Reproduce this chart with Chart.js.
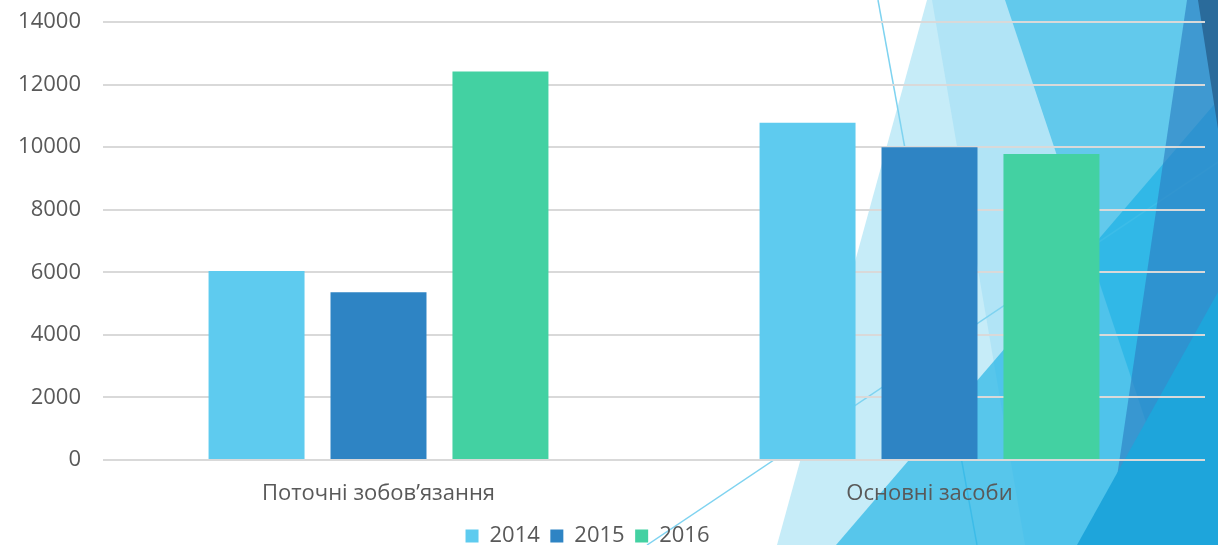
<!DOCTYPE html>
<html>
<head>
<meta charset="utf-8">
<script src="https://cdn.jsdelivr.net/npm/chart.js@4.4.1/dist/chart.umd.min.js"></script>
<style>
  html, body { margin: 0; padding: 0; background: #ffffff; }
  #wrap { position: relative; width: 1218px; height: 545px; }
  canvas { display: block; }
</style>
</head>
<body>
<div id="wrap"><canvas id="c" width="1218" height="545"></canvas></div>
<script>
// ---- data ----
const categories = ['Поточні зобов’язання', 'Основні засоби'];
const seriesNames = ['2014', '2015', '2016'];
const values2014 = [6040, 10780];
const values2015 = [5360, 10000];
const values2016 = [12415, 9780];
const yTickMin = 0;
const yTickMax = 14000;
const yTickStep = 2000;

// ---- styles ----
const seriesColors = ['#5ECBEF', '#2E84C4', '#43D1A2'];
const textColor = '#595959';
const fontFamily = "'Open Sans', 'Noto Sans', sans-serif";

// decorative theme background (slide facets), drawn behind the chart
const facetBackground = {
  id: 'facetBackground',
  beforeDraw(chart) {
    const ctx = chart.ctx;
    const W = chart.width, H = chart.height;
    const poly = (pts, fill) => {
      ctx.beginPath();
      pts.forEach((p, i) => i ? ctx.lineTo(p[0] * W, p[1] * H) : ctx.moveTo(p[0] * W, p[1] * H));
      ctx.closePath();
      ctx.fillStyle = fill;
      ctx.fill();
    };
    const line = (a, b, col, w) => {
      ctx.beginPath();
      ctx.moveTo(a[0] * W, a[1] * H);
      ctx.lineTo(b[0] * W, b[1] * H);
      ctx.strokeStyle = col;
      ctx.lineWidth = w;
      ctx.stroke();
    };
    const fx = v => v / 1218, fy = v => v / 545;
    ctx.save();
    ctx.fillStyle = '#ffffff';
    ctx.fillRect(0, 0, W, H);
    poly([[fx(927), 0], [1, 0], [1, 1], [fx(777), 1]], '#C6ECF8');
    poly([[fx(932), 0], [1, 0], [1, 1], [fx(1025), 1]], '#B1E4F6');
    poly([[fx(1005), 0], [1, 0], [1, 1], [fx(1187), 1]], '#62C9EC');
    line([fx(878), 0], [fx(977), 1], '#7FD3F0', 1.5);
    line([fx(647), 1], [1, fy(162)], '#7FD3F0', 1.5);
    poly([[fx(836), 1], [1, fy(100)], [1, 1]], 'rgba(19,175,227,0.62)');
    poly([[fx(1187), 0], [1, 0], [1, 1], [fx(1107), 1]], 'rgba(44,128,195,0.65)');
    poly([[1, fy(292)], [1, 1], [fx(1077), 1]], '#1EA5DB');
    poly([[fx(1198), 0], [1, 0], [1, fy(129)]], '#2A6B9B');
    ctx.restore();
  }
};

const legendShift = {
  id: 'legendShift',
  afterLayout(chart) {
    const lg = chart.legend;
    if (lg) { lg.left -= 15; lg.right -= 15; }
  }
};

const seriesValues = [values2014, values2015, values2016];

new Chart(document.getElementById('c'), {
  type: 'bar',
  data: {
    labels: categories,
    datasets: seriesNames.map((name, i) => ({
      label: name,
      data: seriesValues[i],
      backgroundColor: seriesColors[i],
      borderWidth: 0,
      categoryPercentage: 0.664,
      barPercentage: 0.787
    }))
  },
  options: {
    responsive: false,
    animation: false,
    devicePixelRatio: 1,
    layout: { padding: { top: 22, right: 13, left: 0, bottom: -12 } },
    plugins: {
      tooltip: { enabled: false },
      legend: {
        position: 'bottom',
        labels: {
          color: textColor,
          font: { family: fontFamily, size: 22 },
          boxWidth: 13,
          boxHeight: 13,
          padding: 10.5
        }
      }
    },
    scales: {
      x: {
        grid: { display: false },
        border: { display: false },
        ticks: {
          color: textColor,
          font: { family: fontFamily, size: 22 },
          padding: 13,
          maxRotation: 0
        },
        afterFit(scale) { scale.height = 54.5; }
      },
      y: {
        min: yTickMin,
        max: yTickMax,
        ticks: {
          stepSize: yTickStep,
          color: textColor,
          font: { family: fontFamily, size: 22 },
          padding: 22,
          callback: v => String(v)
        },
        grid: { color: '#D9D9D9', lineWidth: 2, drawTicks: false },
        border: { display: false },
        afterFit(scale) {
          scale.width = 103;
          scale.paddingTop = 0;
          scale.paddingBottom = 0;
        }
      }
    }
  },
  plugins: [facetBackground, legendShift]
});
</script>
</body>
</html>
